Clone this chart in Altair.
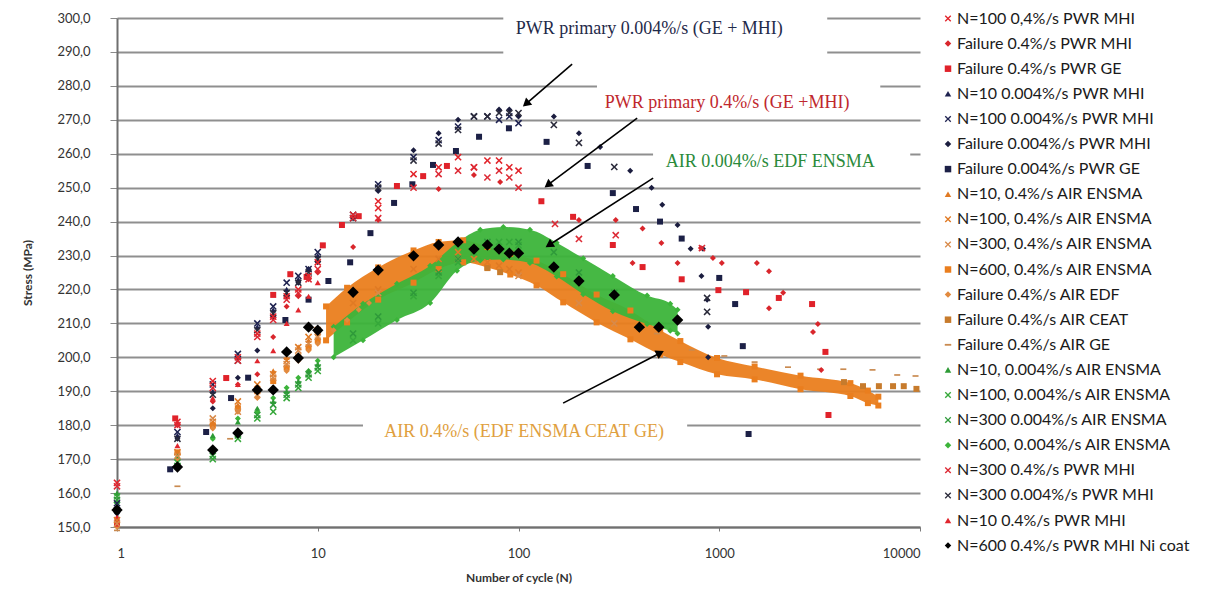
import math
import altair as alt
import pandas as pd

W, H = 803, 509

names = [
    "N=100 0,4%/s PWR MHI",
    "Failure 0.4%/s PWR MHI",
    "Failure 0.4%/s PWR GE",
    "N=10 0.004%/s PWR MHI",
    "N=100 0.004%/s PWR MHI",
    "Failure 0.004%/s PWR MHI",
    "Failure 0.004%/s PWR GE",
    "N=10, 0.4%/s AIR ENSMA",
    "N=100, 0.4%/s AIR ENSMA",
    "N=300, 0.4%/s AIR ENSMA",
    "N=600, 0.4%/s AIR ENSMA",
    "Failure 0.4%/s AIR EDF",
    "Failure 0.4%/s AIR CEAT",
    "Failure 0.4%/s AIR GE",
    "N=10, 0.004%/s AIR ENSMA",
    "N=100, 0.004%/s AIR ENSMA",
    "N=300 0.004%/s AIR ENSMA",
    "N=600, 0.004%/s AIR ENSMA",
    "N=300 0.4%/s PWR MHI",
    "N=300 0.004%/s PWR MHI",
    "N=10 0.4%/s PWR MHI",
    "N=600 0.4%/s PWR MHI Ni coat",
]

# ---- series values (cycle number, stress MPa) ----
s01_n = [1, 2, 3, 4, 5, 6, 7, 8, 9, 10, 15, 20, 20, 30, 40, 50, 60, 70, 80, 90, 100]
s01_v = [163, 181, 193, 200, 207, 212, 218, 220, 224, 228, 242, 246, 244, 254, 256, 259, 256, 258, 258, 256, 255]

s02_n = [1, 2, 3, 4, 5, 6, 7, 8, 9, 10, 15, 20, 40, 60, 81, 200, 305, 370, 415, 515, 620, 810, 930, 1030,
         1540, 1770, 1770, 2080, 2930, 3100, 3220]
s02_v = [152, 180, 187, 192, 195, 206, 215, 218, 223, 225, 232.5, 240.5, 249.6, 253.7, 251.7, 240.5, 240.5,
         227.8, 238, 233.7, 227.8, 232.2, 229.3, 227.8, 227.8, 225.4, 214.5, 219, 207.5, 209.8, 196.3]

s03_n = [1, 1.95, 3.5, 6, 7.3, 8.8, 10.6, 13.2, 16, 24.8, 33.5, 44, 130, 187, 295, 415, 650, 990, 1360, 1980,
         2900, 3380, 3500]
s03_v = [151, 182, 193.9, 218.4, 224.5, 223.7, 233, 239, 241.6, 250.5, 253.4, 256.4, 246, 241.4, 233.1, 226.6,
         223, 219.8, 219.2, 217.5, 215.7, 201.6, 183]

s04_n = [1, 2, 3, 4, 5, 6, 7, 8, 9, 10]
s04_v = [156, 177, 190, 200, 209, 214, 220, 223, 226, 230]

s05_n = [1, 2, 3, 4, 5, 6, 7, 8, 9, 10, 15, 20, 30, 40, 50, 60, 70, 80, 90, 100]
s05_v = [157, 178, 192, 201, 210, 215, 222, 224, 226, 231, 242, 251, 259, 264, 268, 271, 271, 270, 271, 269]

s06_n = [1, 2, 3, 4, 5, 6, 7, 8, 9, 10, 15, 20, 30, 40, 50, 80, 90, 100, 150, 200, 255, 360, 460, 520, 620,
         720, 830, 815, 870, 880, 880]
s06_v = [154, 176, 185, 194, 202, 212, 218, 222, 226, 228, 241, 249, 261, 266, 270, 273, 273, 271, 271, 266,
         262, 255, 250, 245, 239, 232, 232, 224, 217, 209, 200]

s07_n = [1, 1.84, 2.78, 3.7, 4.5, 6.9, 9, 11.3, 14.5, 18.3, 24, 29.6, 37.5, 48.8, 63.6, 89.6, 138, 221, 295,
         385, 507, 650, 1000, 1200, 1310, 1400]
s07_v = [155, 167, 178, 188, 194, 211, 217, 222.5, 228, 236.6, 245.5, 251, 256.7, 260.8, 265, 267.5, 263.5,
         256.4, 248.4, 243.7, 240, 235, 223.4, 215.7, 203.3, 177.4]

s08_n = [1, 2, 3, 4, 5, 6, 7, 8, 9, 10]
s08_v = [151, 172, 180, 186, 190, 196, 200, 203, 205, 207]

s09_n = [1, 2, 3, 4, 5, 6, 7, 8, 9, 10, 15, 20, 30, 40, 50, 60, 70, 80, 90, 100]
s09_v = [152, 172, 181, 187, 192, 195, 199, 203, 206, 208, 216, 220, 226, 229, 231, 229, 228, 227, 226, 225]

s10_n = [1, 2, 3, 4, 5, 6, 7, 8, 9, 10, 20, 50, 100, 200, 300]
s10_v = [151, 171, 182, 184, 189, 194, 198, 202, 204, 206, 219, 229, 224, 216, 210]

s11_n = [1, 2, 3, 4, 5, 6, 7, 8, 9, 10]
s11_v = [155, 172, 180, 185, 190, 193, 197, 200, 203, 205]

s12_n = [1, 2, 3, 4, 5, 6, 7, 8, 9, 10, 12, 14, 16, 18]
s12_v = [150, 170, 179, 184, 188, 191, 196, 199, 202, 204, 208, 211, 214, 216]

s13_n = [70, 81, 4180, 5200, 6240, 7340, 8300, 9600]
s13_v = [226.3, 225.1, 192.7, 191.5, 191.5, 191.5, 191.5, 190.7]

s14_n = [1, 2, 3.66, 490, 730, 1060, 1500, 2200, 3180, 4150, 5800, 7700, 9500]
s14_v = [149, 162, 176, 207, 202.2, 200.4, 198.6, 197.1, 196.5, 196.5, 196.3, 194.8, 194.5]

s15_n = [1, 2, 3, 4, 5, 6, 7, 8, 9, 10]
s15_v = [160, 171, 177, 181, 185, 187, 190, 193, 196, 198]

s16_n = [1, 2, 3, 4, 5, 6, 7, 8, 9, 10, 15, 20, 30, 40, 50, 60, 70, 80, 90, 100]
s16_v = [159, 169, 170, 176, 182, 184, 188, 191, 194, 196, 205, 210, 218, 224, 228, 231, 233, 234, 234, 233]

s17_n = [1, 2, 3, 4, 5, 6, 7, 8, 9, 10, 15, 20, 30, 40, 50, 70, 100, 150, 200, 300]
s17_v = [158, 168, 171, 177, 183, 186, 189, 192, 195, 197, 207, 212, 219, 225, 229, 234, 234, 231, 225, 219]

s18_n = [1, 2, 3, 4, 5, 6, 7, 8, 9, 10]
s18_v = [157, 170, 176, 182, 184, 188, 191, 194, 196, 199]

s19_n = [1, 2, 3, 4, 5, 6, 7, 8, 9, 10, 15, 20, 30, 40, 50, 60, 70, 80, 90, 100, 152, 200, 305, 820]
s19_v = [162, 180, 191, 199, 206, 211, 217, 219, 223, 226, 241, 241, 250, 254, 255, 256, 253, 255, 253, 250,
         239.3, 234.9, 236, 232.2]

s20_n = [1, 2, 3, 4, 5, 6, 7, 8, 9, 10, 15, 20, 30, 40, 50, 60, 70, 80, 90, 100, 150, 200, 300, 870, 870]
s20_v = [155, 176, 189, 199, 208, 213, 219, 222, 225, 229, 241, 250, 258, 263, 267, 271, 271, 272, 272, 272,
         268.5, 263.2, 256.1, 217.5, 213.4]

s21_n = [1, 2, 3, 4, 5, 6, 7, 8, 9, 10]
s21_v = [153, 174, 188, 192, 199, 202, 210, 214, 218, 222]

s22_n = [1, 2, 3, 4, 5, 6, 7, 8, 9, 10, 15, 20, 30, 40, 50, 60, 70, 80, 90, 100, 150, 200, 300, 400, 500, 620]
s22_v = [155, 167.7, 172.7, 177.7, 190.4, 190.4, 201.6, 199.8, 208.9, 208, 219.2, 225.7, 229.9, 233.1, 234,
         231.9, 233.1, 231.9, 230.7, 230.7, 226.6, 222.5, 218.4, 208.9, 208.9, 211]

# dense bands (N=600 tests), upper and lower edge of the cloud
or_band_n = [11, 14, 20, 30, 40, 53, 70, 91, 123, 167, 245, 361, 508, 640, 975, 1500, 2540, 4500, 5500, 6200]
or_band_hi = [215, 220.5, 226.5, 231.5, 234, 234.5, 232.5, 230.5, 228.5, 224.5, 218.5, 213.8, 208, 204.8, 199.8,
              197.3, 194.6, 192.4, 190.2, 188.4]
or_band_lo = [205, 210.3, 217, 222, 226, 228, 226.5, 224.4, 221.2, 216.2, 210.3, 205.3, 200.8, 198.6, 195, 193.5,
              190.6, 188.6, 186.5, 185.8]

gr_band_n = [12, 16.8, 24.8, 36.3, 49.4, 64.5, 84, 114, 155, 210, 295, 437, 570, 620]
gr_band_hi = [209, 215.8, 221.7, 227, 233.8, 237.6, 238.4, 237.6, 233.8, 229.2, 224, 218.2, 215.8, 214]
gr_band_lo = [200, 205, 211, 216, 225.5, 228.5, 228.8, 227.8, 223.8, 218.6, 213.6, 209.8, 207.8, 207]

# annotations
ann_text = ["PWR primary 0.004%/s (GE + MHI)", "PWR primary 0.4%/s (GE +MHI)",
            "AIR 0.004%/s EDF ENSMA", "AIR 0.4%/s (EDF ENSMA CEAT GE)"]
ann_n = [448, 1094, 1795, 106.6]
ann_v = [296.8, 274.9, 257.6, 178]

arrow_n0 = [185, 390, 468.5, 166.8]
arrow_v0 = [286.4, 270.5, 252.8, 186.5]
arrow_n1 = [109, 140, 142, 508]
arrow_v1 = [274.7, 250.8, 233.1, 201.3]

box_n0 = [84, 246, 468, 16.8]
box_n1 = [3450, 6340, 8940, 692]
box_v0 = [284, 278, 258, 178]
box_v1 = [301.5, 282, 262, 182]

# ---- styles ----
XS = "M-1,-0.7L-0.7,-1L0,-0.3L0.7,-1L1,-0.7L0.3,0L1,0.7L0.7,1L0,0.3L-0.7,1L-1,0.7L-0.3,0Z"
DASH = "M-1,-0.28L1,-0.28L1,0.28L-1,0.28Z"
shapes = [XS, "diamond", "square", "triangle-up", XS, "diamond", "square",
          "triangle-up", XS, XS, "square", "diamond", "square", DASH,
          "triangle-up", XS, XS, "diamond", XS, XS, "triangle-up", "diamond"]
colors = ["#e2242b", "#d9262c", "#e0222a", "#1e2250", "#1e2250", "#1b1d3f", "#1c2046",
          "#e07a24", "#e07a24", "#d88a4a", "#ea7e1e", "#e28a3e", "#c77b2c", "#c98a50",
          "#2e9b36", "#36a83a", "#2f9a3a", "#3cb43a", "#dd2a35", "#2a2a3a", "#e0262e", "#000000"]

ser = {
    1: (s01_n, s01_v), 2: (s02_n, s02_v), 3: (s03_n, s03_v), 4: (s04_n, s04_v), 5: (s05_n, s05_v),
    6: (s06_n, s06_v), 7: (s07_n, s07_v), 8: (s08_n, s08_v), 9: (s09_n, s09_v), 10: (s10_n, s10_v),
    11: (s11_n + or_band_n + or_band_n, s11_v + or_band_hi + or_band_lo),
    12: (s12_n, s12_v), 13: (s13_n, s13_v), 14: (s14_n, s14_v), 15: (s15_n, s15_v),
    16: (s16_n, s16_v), 17: (s17_n, s17_v),
    18: (s18_n + gr_band_n + gr_band_n, s18_v + gr_band_hi + gr_band_lo),
    19: (s19_n, s19_v), 20: (s20_n, s20_v), 21: (s21_n, s21_v), 22: (s22_n, s22_v),
}
draw_order = [11, 18, 8, 9, 10, 12, 13, 14, 15, 16, 17, 7, 4, 5, 6, 20, 3, 2, 1, 19, 21, 22]
rows = []
for k in draw_order:
    ns, vs = ser[k]
    for n, v in zip(ns, vs):
        rows.append({"series": names[k - 1], "N": n, "S": v})
pts = pd.DataFrame(rows)

FONT = "Lato"
xscale = alt.Scale(type="log", domain=[1, 10000], nice=False)
yscale = alt.Scale(domain=[150, 300], nice=False, zero=False)
xaxis = alt.Axis(values=[1, 10, 100, 1000, 10000], labelExpr="format(datum.value, 'd')", grid=False,
                 tickSize=4, tickColor="#7a7a7a", domainColor="#707070", domainWidth=2,
                 labelPadding=16, labelFont=FONT, labelFontSize=13, labelColor="#333333",
                 titleFont=FONT, titleFontSize=12, titleFontWeight="bold", titleColor="#333333",
                 titlePadding=12)
yaxis = alt.Axis(values=list(range(150, 301, 10)),
                 labelExpr="replace(format(datum.value, '.1f'), '.', ',')",
                 grid=True, gridColor="#8f8f8f", gridWidth=2, tickSize=7, tickColor="#8a8a8a",
                 domainColor="#6f6f6f", domainWidth=2, labelPadding=20, labelFont=FONT,
                 labelFontSize=13, labelColor="#333333", titleFont=FONT, titleFontSize=12,
                 titleFontWeight="bold", titleColor="#333333", titlePadding=22)


def X(f="N"):
    return alt.X(f"{f}:Q", scale=xscale, axis=xaxis, title="Number of cycle (N)")


def Y(f="S"):
    return alt.Y(f"{f}:Q", scale=yscale, axis=yaxis, title="Stress (MPa)")


boxes = pd.DataFrame({"N": box_n0, "N2": box_n1, "S": box_v0, "S2": box_v1})
rect = alt.Chart(boxes).mark_rect(color="white").encode(
    x=X(), x2=alt.X2("N2"), y=Y(), y2=alt.Y2("S2"))

orb = pd.DataFrame({"N": or_band_n, "S": or_band_lo, "S2": or_band_hi})
grb = pd.DataFrame({"N": gr_band_n, "S": gr_band_lo, "S2": gr_band_hi})
or_area = alt.Chart(orb).mark_area(color="#ea7e1e", opacity=0.95, interpolate="monotone").encode(
    x=X(), y=Y(), y2=alt.Y2("S2"))
gr_area = alt.Chart(grb).mark_area(color="#3cb43a", opacity=0.95, interpolate="monotone").encode(
    x=X(), y=Y(), y2=alt.Y2("S2"))

legend = alt.Legend(title=None, orient="none", legendX=823, legendY=-7.5, padding=0,
                    labelFont=FONT, labelFontSize=16, labelColor="#1a1a1a", labelLimit=330,
                    symbolSize=42, rowPadding=9.1, labelOffset=1, symbolStrokeWidth=0,
                    symbolLimit=30)
enc = dict(
    x=X(), y=Y(),
    color=alt.Color("series:N", scale=alt.Scale(domain=names, range=colors), legend=legend),
    shape=alt.Shape("series:N", scale=alt.Scale(domain=names, range=shapes), legend=legend),
)
x_names = [nm for nm, sh in zip(names, shapes) if sh == XS]
big_names = [names[21]]
small_names = [nm for nm in names if nm not in x_names and nm not in big_names]

pts_small = alt.Chart(pts).mark_point(filled=True, opacity=1, strokeWidth=0, size=36).encode(
    **enc).transform_filter(alt.FieldOneOfPredicate(field="series", oneOf=small_names))
pts_x = alt.Chart(pts).mark_point(filled=True, opacity=1, strokeWidth=0, size=52).encode(
    **enc).transform_filter(alt.FieldOneOfPredicate(field="series", oneOf=x_names))
pts_big = alt.Chart(pts).mark_point(filled=True, opacity=1, strokeWidth=0, size=130).encode(
    **enc).transform_filter(alt.FieldOneOfPredicate(field="series", oneOf=big_names))

ann = pd.DataFrame({"N": ann_n, "S": ann_v, "t": ann_text})
ann_colors = ["#1f2a4a", "#c0272d", "#2a8a3a", "#e0a040"]
texts = []
for i in range(4):
    texts.append(alt.Chart(ann.iloc[[i]]).mark_text(
        font="Liberation Serif", fontSize=18, color=ann_colors[i],
        align="center", baseline="middle").encode(x=X(), y=Y(), text="t:N"))


def sx(n):
    return math.log10(n) / 4 * W


def sy(s):
    return (300 - s) / 150 * H


angs = [math.degrees(math.atan2(sx(b) - sx(a), -(sy(d) - sy(c)))) % 360
        for a, b, c, d in zip(arrow_n0, arrow_n1, arrow_v0, arrow_v1)]
arr = pd.DataFrame({"N": arrow_n0, "S": arrow_v0, "N2": arrow_n1, "S2": arrow_v1})
heads = pd.DataFrame({"N": arrow_n1, "S": arrow_v1, "ang": angs})
rules = alt.Chart(arr).mark_rule(color="black", strokeWidth=1.6).encode(
    x=X(), y=Y(), x2=alt.X2("N2"), y2=alt.Y2("S2"))
head = alt.Chart(heads).mark_point(shape="triangle-up", filled=True, color="black", size=90,
                                   opacity=1).encode(
    x=X(), y=Y(), angle=alt.Angle("ang:Q", scale=None))

chart = alt.layer(rect, or_area, gr_area, pts_small, pts_x, pts_big, *texts, rules, head).properties(
    width=W, height=H,
    autosize=alt.AutoSizeParams(type="none"),
    padding={"left": 109, "top": 10, "right": 282, "bottom": 58},
).configure_view(strokeWidth=0)

chart.save("out.html", embed_options={"renderer": "svg", "actions": False})
